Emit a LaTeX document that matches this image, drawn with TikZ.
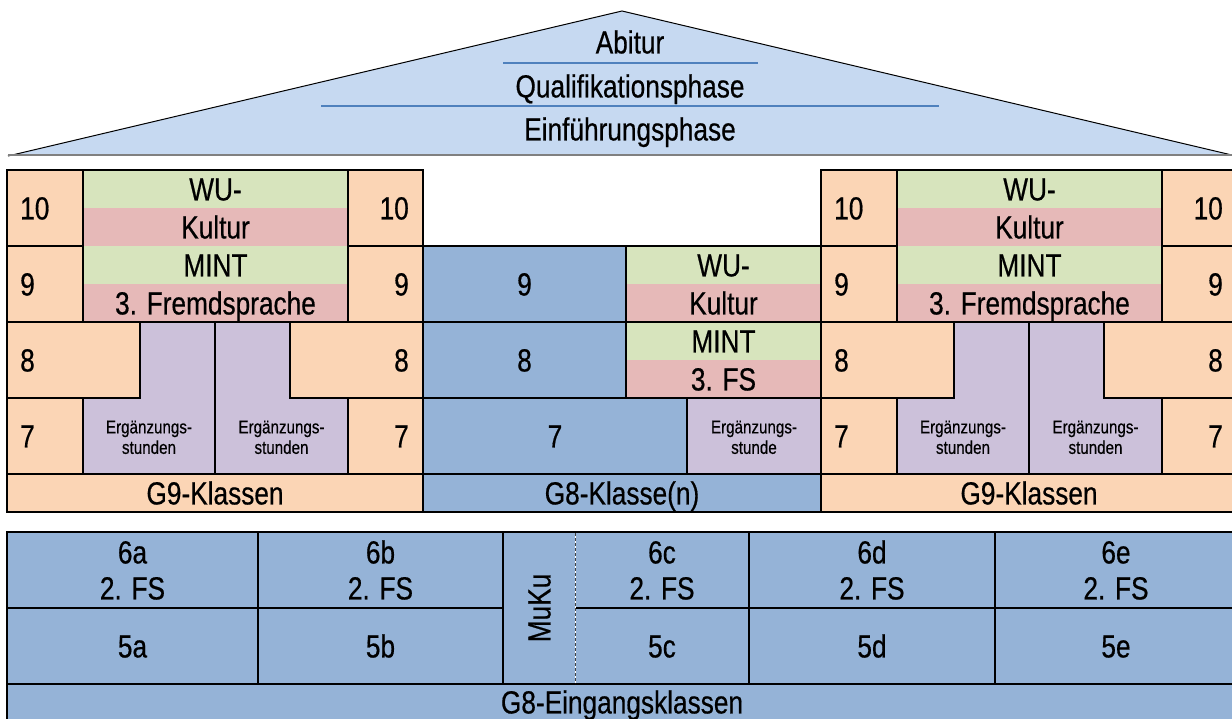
\documentclass[tikz,border=0pt]{standalone}
\usepackage{fontspec}
\setmainfont{Liberation Sans}[FakeStretch=0.82,FakeBold=0.5]
\newcommand\BigTxt{\fontsize{32}{36}\selectfont}
\newcommand\SmallTxt{\fontsize{18.5}{20.5}\selectfont}

\definecolor{roofblue}{HTML}{C6D9F1}
\definecolor{roofline}{HTML}{4F81BD}
\definecolor{gnineorange}{HTML}{FBD5B5}
\definecolor{geightblue}{HTML}{95B3D7}
\definecolor{wugreen}{HTML}{D7E4BD}
\definecolor{fsred}{HTML}{E6B9B8}
\definecolor{ergpurple}{HTML}{CCC1DA}

\tikzset{
  cell/.style={draw=black, line width=1.8pt, line join=miter},
  lbl/.style={font=\BigTxt, text height=22.9pt, text depth=0pt, inner sep=0pt, align=center},
  lbltwo/.style={lbl, text height=58.9pt},
  slbl/.style={font=\SmallTxt, text height=33.7pt, text depth=0pt, inner sep=0pt, align=center},
}

% One G9 wing (years 7 to 10); #1 = horizontal offset, #2 = name prefix
\newcommand{\GNineWing}[2]{%
  \begin{scope}[shift={(#1,0)}]
    % year cells at the sides
    \filldraw[cell, fill=gnineorange] (7,170) rectangle (83,246);
    \filldraw[cell, fill=gnineorange] (348,170) rectangle (423,246);
    \filldraw[cell, fill=gnineorange] (7,246) rectangle (83,322);
    \filldraw[cell, fill=gnineorange] (348,246) rectangle (423,322);
    \filldraw[cell, fill=gnineorange] (7,322) rectangle (140,398);
    \filldraw[cell, fill=gnineorange] (290,322) rectangle (423,398);
    \filldraw[cell, fill=gnineorange] (7,398) rectangle (83,474);
    \filldraw[cell, fill=gnineorange] (348,398) rectangle (423,474);
    \filldraw[cell, fill=gnineorange] (7,474) rectangle (423,512);
    % elective strips
    \fill[wugreen] (83,170) rectangle (348,208);
    \fill[fsred]   (83,208) rectangle (348,246);
    \fill[wugreen] (83,246) rectangle (348,284);
    \fill[fsred]   (83,284) rectangle (348,322);
    \draw[cell] (83,170) rectangle (348,322);
    % supplementary lessons
    \filldraw[cell, fill=ergpurple] (140,322) -- (215,322) -- (215,474) -- (83,474) -- (83,398) -- (140,398) -- cycle;
    \filldraw[cell, fill=ergpurple] (215,322) -- (290,322) -- (290,398) -- (348,398) -- (348,474) -- (215,474) -- cycle;
    % labels
    \node[lbl, anchor=west] (#2-tenl) at (20,208) {10};
    \node[lbl, anchor=east] (#2-tenr) at (409,208) {10};
    \node[lbl, anchor=west] (#2-ninel) at (20,284) {9};
    \node[lbl, anchor=east] (#2-niner) at (409,284) {9};
    \node[lbl, anchor=west] (#2-eightl) at (20,360) {8};
    \node[lbl, anchor=east] (#2-eightr) at (409,360) {8};
    \node[lbl, anchor=west] (#2-sevenl) at (20,436) {7};
    \node[lbl, anchor=east] (#2-sevenr) at (409,436) {7};
    \node[lbl] (#2-wu) at (215.5,189) {WU-};
    \node[lbl] (#2-kultur) at (215.5,227) {Kultur};
    \node[lbl] (#2-mint) at (215.5,265) {MINT};
    \node[lbl] (#2-fs) at (215.5,303) {3. Fremdsprache};
    \node[slbl] (#2-ergl) at (149,437) {Ergänzungs-\\stunden};
    \node[slbl] (#2-ergr) at (281.5,437) {Ergänzungs-\\stunden};
    \node[lbl] (#2-klassen) at (215,493) {G9-Klassen};
  \end{scope}}

\begin{document}
\begin{tikzpicture}[x=1pt, y=-1pt]
  \useasboundingbox (0,0) rectangle (1232,719);
  \fill[white] (0,0) rectangle (1232,719);

  % roof: upper school
  \fill[roofblue] (8,156) -- (622,11) -- (1236,156) -- cycle;
  \draw[black, line width=1pt] (8,156) -- (622,11) -- (1236,156);
  \draw[gray, line width=2pt] (8,155.5) -- (1236,155.5);
  \draw[roofline, line width=2pt] (503,63) -- (758,63);
  \draw[roofline, line width=2pt] (321,106) -- (939,106);
  \node[lbl] (abitur) at (630,42) {Abitur};
  \node[lbl] (qphase) at (630,86) {Qualifikationsphase};
  \node[lbl] (ephase) at (630,129) {Einführungsphase};

  % G9 wings
  \GNineWing{0}{left}
  \GNineWing{814}{right}

  % G8 middle block
  \filldraw[cell, fill=geightblue] (423,246) rectangle (626,322);
  \filldraw[cell, fill=geightblue] (423,322) rectangle (626,398);
  \fill[wugreen] (626,246) rectangle (821,284);
  \fill[fsred]   (626,284) rectangle (821,322);
  \fill[wugreen] (626,322) rectangle (821,360);
  \fill[fsred]   (626,360) rectangle (821,398);
  \draw[cell] (626,246) rectangle (821,322);
  \draw[cell] (626,322) rectangle (821,398);
  \filldraw[cell, fill=geightblue] (423,398) rectangle (687,474);
  \filldraw[cell, fill=ergpurple] (687,398) rectangle (821,474);
  \filldraw[cell, fill=geightblue] (423,474) rectangle (821,512);
  \node[lbl] (gnine) at (524.5,284) {9};
  \node[lbl] (geight) at (524.5,360) {8};
  \node[lbl] (gwu) at (723.5,265) {WU-};
  \node[lbl] (gkultur) at (723.5,303) {Kultur};
  \node[lbl] (gmint) at (723.5,341) {MINT};
  \node[lbl] (gfs) at (723.5,379) {3. FS};
  \node[lbl] (gseven) at (555,436) {7};
  \node[slbl] (gerg) at (754,437) {Ergänzungs-\\stunde};
  \node[lbl] (gklasse) at (622,493) {G8-Klasse(n)};

  % entry classes 5 and 6
  \filldraw[cell, fill=geightblue] (7,532) rectangle (1237,722);
  \draw[cell] (7,684) -- (1237,684);
  \draw[cell] (7,608) -- (503,608);
  \draw[cell] (575,608) -- (1237,608);
  \draw[cell] (258,532) -- (258,684);
  \draw[cell] (503,532) -- (503,684);
  \draw[cell] (749,532) -- (749,684);
  \draw[cell] (995,532) -- (995,684);
  \draw[white, line width=1pt] (575,533) -- (575,683);
  \draw[black!75, line width=1pt, dash pattern=on 3pt off 2pt] (575,533) -- (575,683);
  \node[lbltwo] (sixa) at (132.5,570) {6a\\2. FS};
  \node[lbltwo] (sixb) at (380.5,570) {6b\\2. FS};
  \node[lbltwo] (sixc) at (662,570) {6c\\2. FS};
  \node[lbltwo] (sixd) at (872,570) {6d\\2. FS};
  \node[lbltwo] (sixe) at (1116,570) {6e\\2. FS};
  \node[lbl] (fivea) at (132.5,646) {5a};
  \node[lbl] (fiveb) at (380.5,646) {5b};
  \node[lbl] (fivec) at (662,646) {5c};
  \node[lbl] (fived) at (872,646) {5d};
  \node[lbl] (fivee) at (1116,646) {5e};
  \node[lbl, rotate=90] (muku) at (539,608) {MuKu};
  \node[lbl] (eingang) at (622,702) {G8-Eingangsklassen};
\end{tikzpicture}
\end{document}
